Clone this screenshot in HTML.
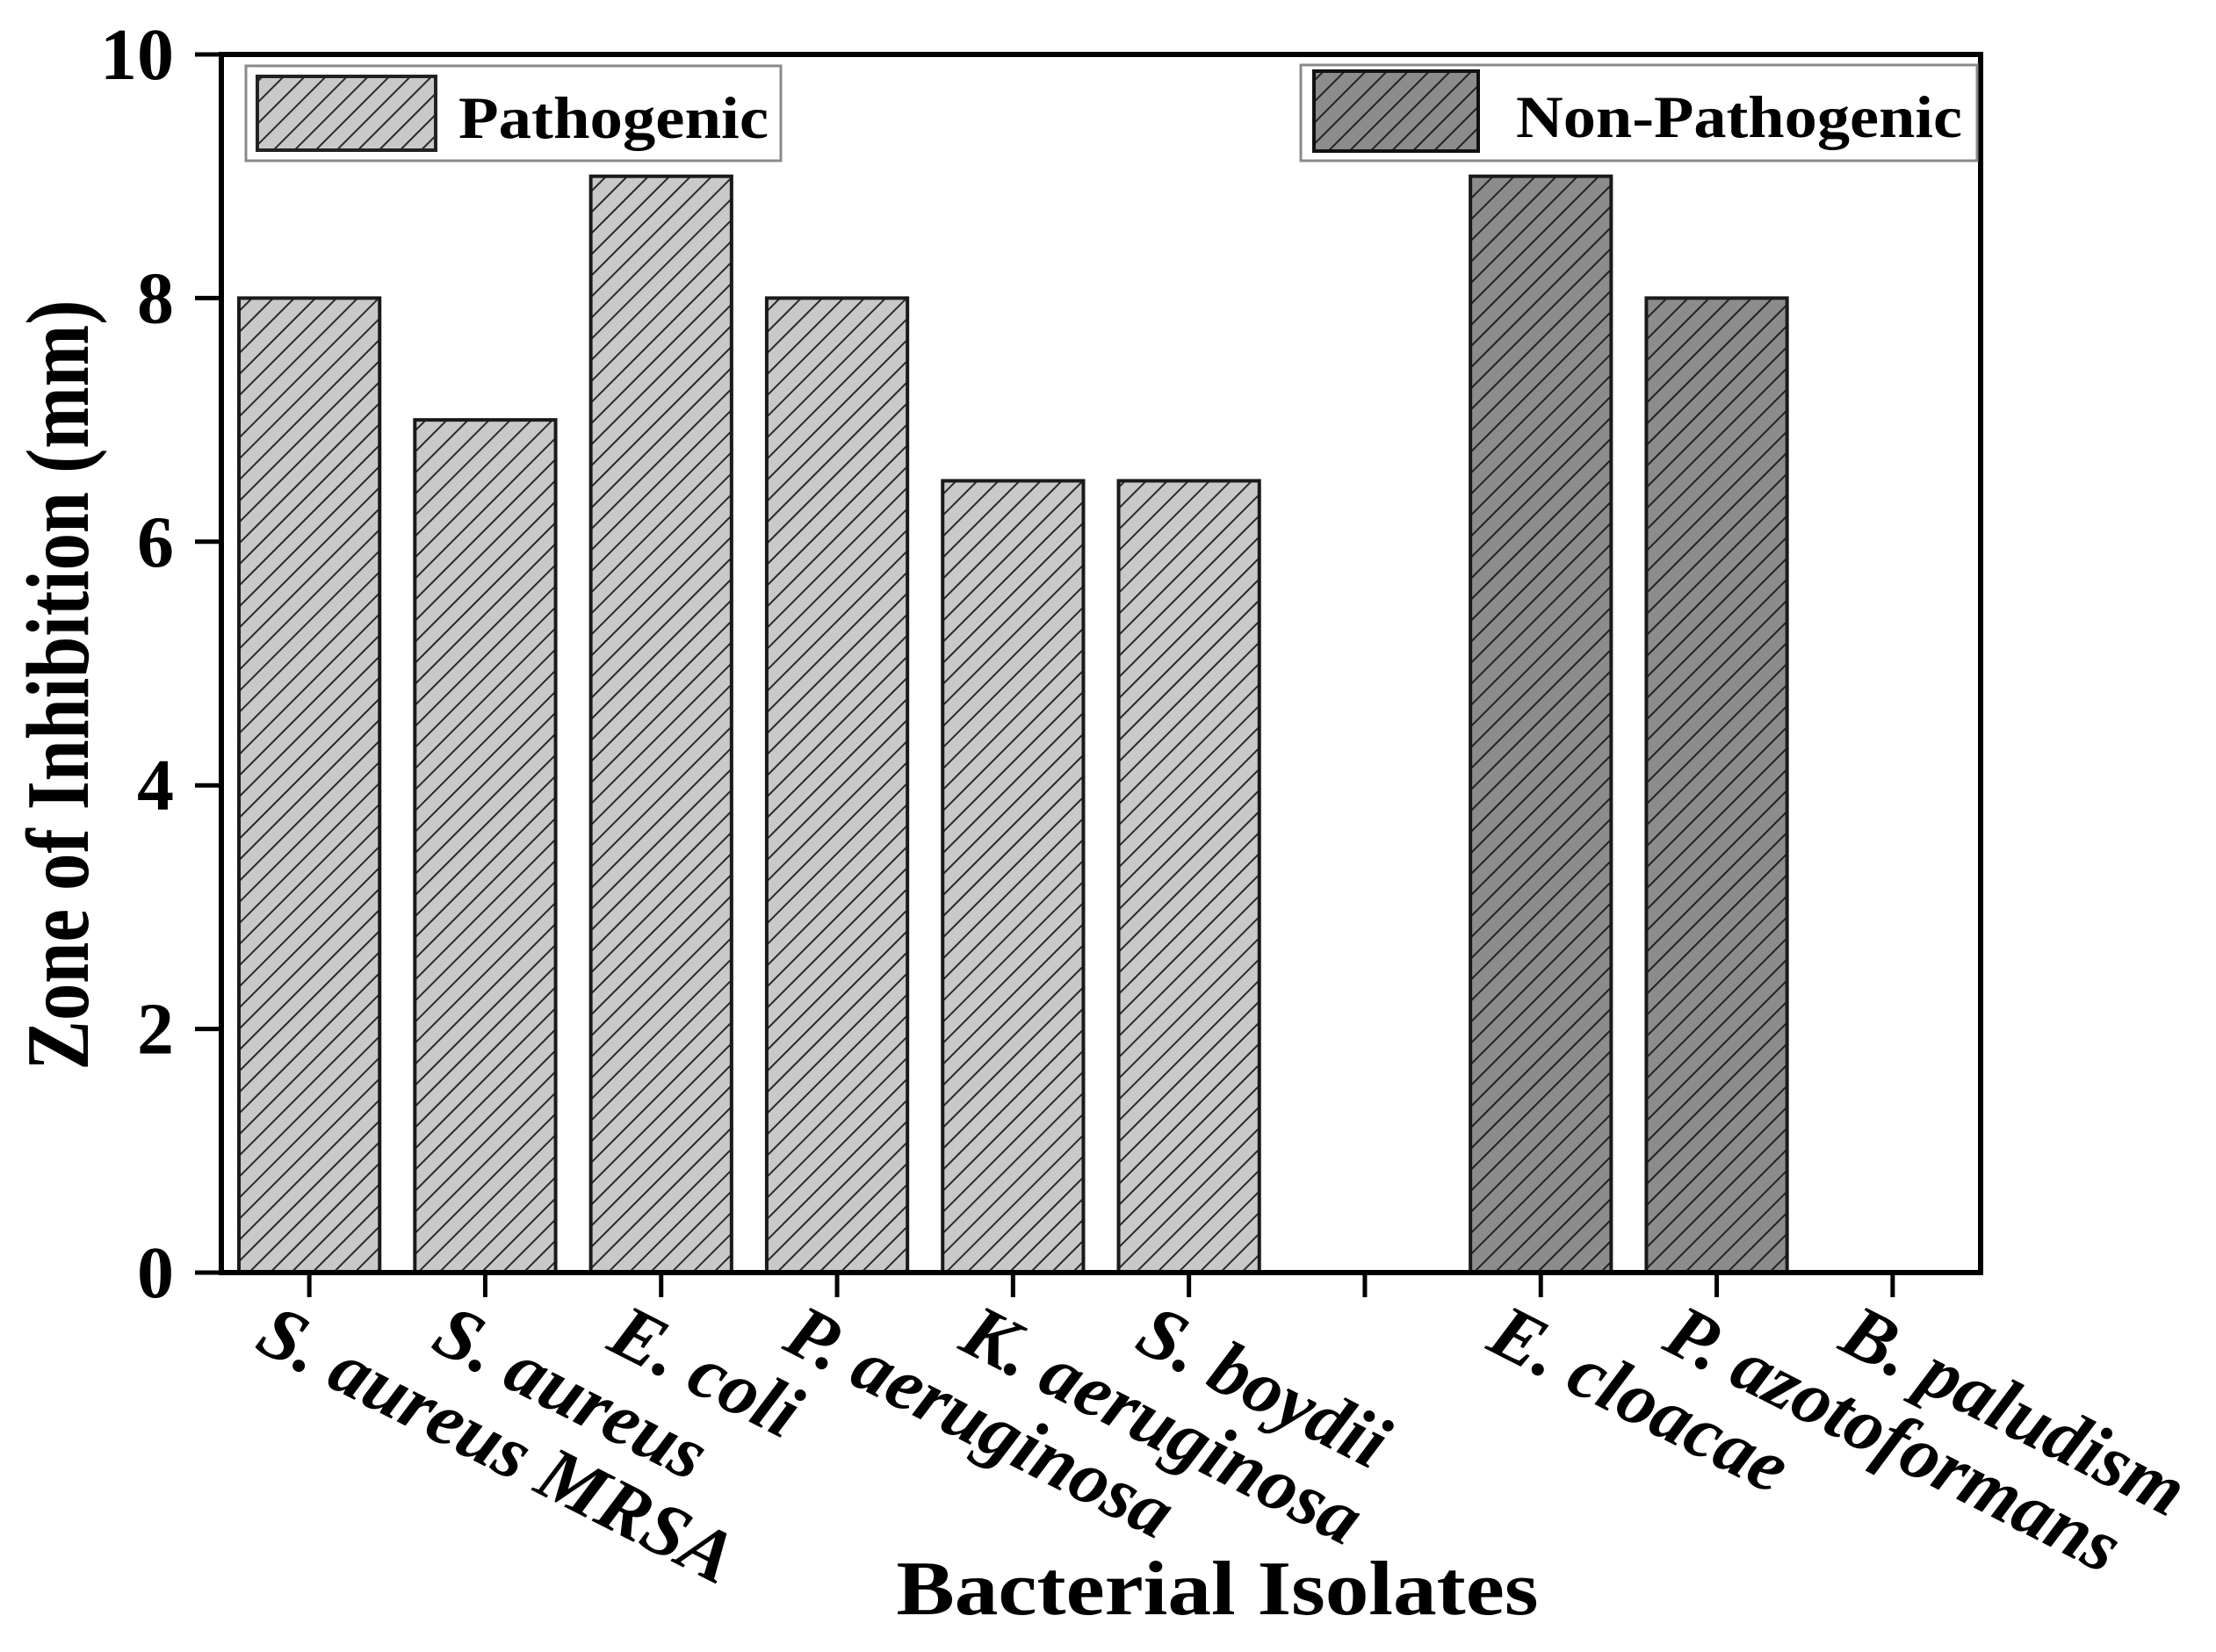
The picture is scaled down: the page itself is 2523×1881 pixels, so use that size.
<!DOCTYPE html>
<html><head><meta charset="utf-8"><style>
html,body{margin:0;padding:0;background:#fff;}
svg{display:block;}
text{font-family:"Liberation Serif",serif;font-weight:bold;fill:#000;}
</style></head>
<body>
<svg id="chart" width="2523" height="1881" viewBox="0 0 2523 1881" xmlns="http://www.w3.org/2000/svg">
<defs>
<pattern id="hatchLight" patternUnits="userSpaceOnUse" width="17" height="17" patternTransform="rotate(-45) ">
<rect width="17" height="17" fill="#c9c9c9"/>
<line x1="0" y1="0" x2="17" y2="0" stroke="#2a2a2a" stroke-width="4"/>
</pattern>
<pattern id="hatchDark" patternUnits="userSpaceOnUse" width="17" height="17" patternTransform="rotate(-45)">
<rect width="17" height="17" fill="#8c8c8c"/>
<line x1="0" y1="0" x2="17" y2="0" stroke="#222" stroke-width="4"/>
</pattern>
</defs>
<g id="bars"></g>
<g id="axes"></g>
<g id="legend-pathogenic">
<rect x="280" y="75" width="609" height="108" fill="#fff" stroke="#8a8a8a" stroke-width="3"/>
<rect x="293" y="87" width="203" height="84" fill="url(#hatchLight)" stroke="#222" stroke-width="4"/>
<text x="522" y="157" font-size="68" textLength="353" lengthAdjust="spacingAndGlyphs">Pathogenic</text>
</g>
<g id="legend-nonpathogenic">
<rect x="1481" y="74" width="770" height="109" fill="#fff" stroke="#8a8a8a" stroke-width="3"/>
<rect x="1496" y="81" width="187" height="91" fill="url(#hatchDark)" stroke="#111" stroke-width="4"/>
<text x="1726" y="156" font-size="68" textLength="508" lengthAdjust="spacingAndGlyphs">Non-Pathogenic</text>
</g>
<text x="0" y="0" font-size="102" textLength="877" lengthAdjust="spacingAndGlyphs" text-anchor="middle" transform="translate(100,780) rotate(-90)">Zone of Inhibition (mm)</text>
<text x="1386" y="1838" font-size="88" textLength="731" lengthAdjust="spacingAndGlyphs" text-anchor="middle">Bacterial Isolates</text>
</svg>
<script>
const categories = ["S. aureus MRSA","S. aureus","E. coli","P. aeruginosa","K. aeruginosa","S. boydii","","E. cloacae","P. azotoformans","B. paludism"];
const values = [8,7,9,8,6.5,6.5,0,9,8,0];
const groups = ["p","p","p","p","p","p","none","n","n","n"];
const yTicks = [0,2,4,6,8,10];

const NS="http://www.w3.org/2000/svg";
const L=252,R=2255,T=62,B=1449,yMax=10;
const band=(R-L)/categories.length;
function xScale(i){return L+band*(i+0.5);}
function yScale(v){return B-(v/yMax)*(B-T);}
const barW=band*0.8;
const barsG=document.getElementById('bars');
const axesG=document.getElementById('axes');
function mk(tag,attrs){const e=document.createElementNS(NS,tag);for(const k in attrs)e.setAttribute(k,attrs[k]);return e;}

values.forEach((v,i)=>{
  if(v<=0||groups[i]==="none")return;
  const r=mk('rect',{x:xScale(i)-barW/2,y:yScale(v),width:barW,height:yScale(0)-yScale(v),
    fill:groups[i]==="p"?"url(#hatchLight)":"url(#hatchDark)",stroke:"#1a1a1a","stroke-width":4});
  
  
  barsG.appendChild(r);
});

const frame=mk('rect',{x:L,y:T,width:R-L,height:B-T,fill:"none",stroke:"#000","stroke-width":6});


axesG.appendChild(frame);

yTicks.forEach(t=>{
  const y=yScale(t);
  const tk=mk('line',{x1:L-30,x2:L,y1:y,y2:y,stroke:"#000","stroke-width":5});
  
  
  axesG.appendChild(tk);
  const tx=mk('text',{x:198,y:y+28,"font-size":84,"text-anchor":"end"});
  tx.textContent=String(t);
  
  
  axesG.appendChild(tx);
});

categories.forEach((c,i)=>{
  const x=xScale(i);
  const tk=mk('line',{x1:x,x2:x,y1:B,y2:B+28,stroke:"#000","stroke-width":5});
  
  
  axesG.appendChild(tk);
  if(!c)return;
  const tx=mk('text',{x:0,y:0,"font-size":86,"font-style":"italic",transform:"translate("+(x-64)+",1535) rotate(27)"});
  tx.textContent=c;
  
  
  axesG.appendChild(tx);
});
</script>
</body></html>
